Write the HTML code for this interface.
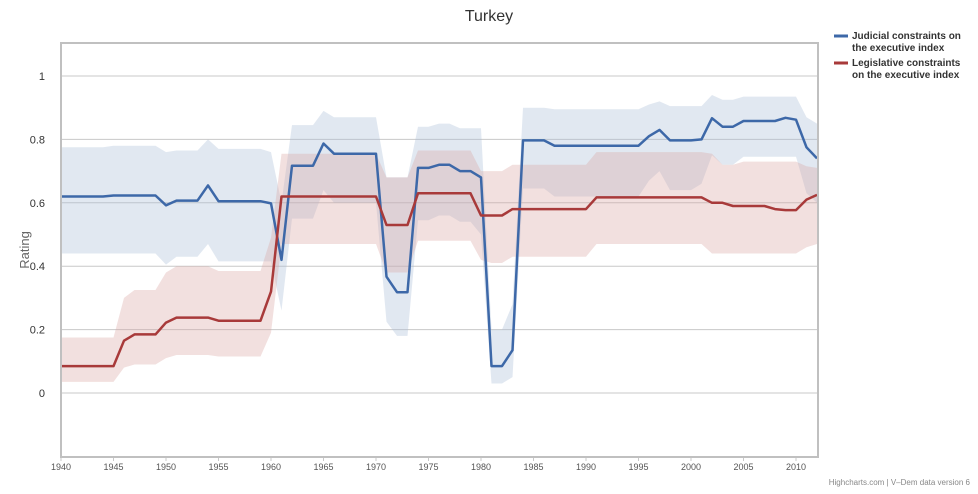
<!DOCTYPE html>
<html><head><meta charset="utf-8"><style>
body{margin:0;background:#fff;width:978px;height:489px;overflow:hidden;font-family:"Liberation Sans","DejaVu Sans",sans-serif}
</style></head><body>
<svg id="c" width="978" height="489" xmlns="http://www.w3.org/2000/svg" font-family="Liberation Sans, DejaVu Sans, sans-serif">
<rect x="0" y="0" width="978" height="489" fill="#fff"/>
<text x="489" y="21" text-anchor="middle" font-size="16" fill="#333">Turkey</text>
<g id="grid" stroke="#c8c8c8" stroke-width="1"></g>
<g id="bands"></g>
<g id="lines"></g>
<rect x="61" y="43" width="757" height="414" fill="none" stroke="#c0c0c0" stroke-width="2"/>
<g id="ylab" font-size="11" fill="#333" text-anchor="end"></g>
<g id="xlab" font-size="9" fill="#555" text-anchor="middle"></g>
<text transform="translate(29,250) rotate(-90)" text-anchor="middle" font-size="13" fill="#666">Rating</text>
<line x1="834" y1="36" x2="848" y2="36" stroke="#3d68a8" stroke-width="3"/>
<text x="852" y="39" font-size="10" font-weight="bold" fill="#333">Judicial constraints on</text>
<text x="852" y="51" font-size="10" font-weight="bold" fill="#333">the executive index</text>
<line x1="834" y1="63" x2="848" y2="63" stroke="#a83a3a" stroke-width="3"/>
<text x="852" y="66" font-size="10" font-weight="bold" fill="#333">Legislative constraints</text>
<text x="852" y="78" font-size="10" font-weight="bold" fill="#333">on the executive index</text>
<text x="970" y="485" text-anchor="end" font-size="8" fill="#888">Highcharts.com | V–Dem data version 6</text>
</svg>
<script>
const X=y=>61+(y-1940)*10.5, Y=v=>393-v*317;
function exp(spec){const a=[];for(const [s,e,v] of spec)for(let y=s;y<=e;y++)a[y-1940]=v;return a;}
const bl=exp([[1940,1944,.62],[1945,1949,.623],[1950,1950,.592],[1951,1953,.607],[1954,1954,.655],[1955,1959,.605],[1960,1960,.598],[1961,1961,.42],[1962,1964,.717],[1965,1965,.787],[1966,1970,.755],[1971,1971,.367],[1972,1973,.318],[1974,1975,.71],[1976,1977,.72],[1978,1979,.70],[1980,1980,.68],[1981,1982,.085],[1983,1983,.135],[1984,1986,.797],[1987,1995,.78],[1996,1996,.81],[1997,1997,.83],[1998,2000,.797],[2001,2001,.80],[2002,2002,.867],[2003,2004,.84],[2005,2008,.858],[2009,2009,.868],[2010,2010,.862],[2011,2011,.775],[2012,2012,.74]]);
const bu=exp([[1940,1944,.775],[1945,1949,.78],[1950,1950,.76],[1951,1953,.765],[1954,1954,.80],[1955,1959,.77],[1960,1960,.76],[1961,1961,.6],[1962,1964,.845],[1965,1965,.89],[1966,1970,.87],[1971,1973,.68],[1974,1975,.84],[1976,1977,.85],[1978,1980,.835],[1981,1982,.2],[1983,1983,.28],[1984,1986,.9],[1987,1995,.895],[1996,1996,.91],[1997,1997,.92],[1998,2001,.905],[2002,2002,.94],[2003,2004,.925],[2005,2010,.935],[2011,2011,.87],[2012,2012,.85]]);
const blo=exp([[1940,1949,.44],[1950,1950,.405],[1951,1953,.43],[1954,1954,.47],[1955,1960,.415],[1961,1961,.26],[1962,1964,.55],[1965,1965,.64],[1966,1970,.6],[1971,1971,.225],[1972,1973,.18],[1974,1975,.545],[1976,1977,.56],[1978,1979,.54],[1980,1980,.5],[1981,1982,.03],[1983,1983,.05],[1984,1986,.645],[1987,1995,.62],[1996,1996,.67],[1997,1997,.70],[1998,2000,.64],[2001,2001,.66],[2002,2002,.75],[2003,2004,.72],[2005,2010,.745],[2011,2011,.63],[2012,2012,.60]]);
const rl=exp([[1940,1945,.085],[1946,1946,.165],[1947,1949,.185],[1950,1950,.222],[1951,1954,.238],[1955,1959,.228],[1960,1960,.32],[1961,1970,.62],[1971,1973,.53],[1974,1979,.63],[1980,1982,.56],[1983,1990,.58],[1991,2001,.617],[2002,2003,.60],[2004,2007,.59],[2008,2008,.58],[2009,2010,.577],[2011,2011,.61],[2012,2012,.625]]);
const ru=exp([[1940,1945,.175],[1946,1946,.30],[1947,1949,.325],[1950,1950,.38],[1951,1954,.40],[1955,1959,.385],[1960,1960,.49],[1961,1970,.755],[1971,1973,.68],[1974,1979,.765],[1980,1982,.70],[1983,1990,.72],[1991,2001,.76],[2002,2002,.755],[2003,2004,.72],[2005,2010,.73],[2011,2011,.715],[2012,2012,.71]]);
const rlo=exp([[1940,1945,.035],[1946,1946,.08],[1947,1949,.09],[1950,1950,.11],[1951,1954,.12],[1955,1959,.115],[1960,1960,.19],[1961,1970,.47],[1971,1973,.38],[1974,1979,.48],[1980,1980,.42],[1981,1982,.41],[1983,1990,.43],[1991,2001,.47],[2002,2010,.44],[2011,2011,.46],[2012,2012,.47]]);
const NS="http://www.w3.org/2000/svg";
function el(p,t,a){const e=document.createElementNS(NS,t);for(const k in a)e.setAttribute(k,a[k]);document.getElementById(p).appendChild(e);return e;}
const pts=a=>a.map((v,i)=>X(1940+i).toFixed(1)+","+Y(v).toFixed(1));
function band(u,l,c){el("bands","polygon",{points:pts(u).concat(pts(l).reverse()).join(" "),fill:c,"fill-opacity":"0.35"});}
band(bu,blo,"#a9bcd8");band(ru,rlo,"#d9a6a3");
el("lines","polyline",{points:pts(bl).join(" "),fill:"none",stroke:"#3d68a8","stroke-width":"2.5","stroke-linejoin":"round"});
el("lines","polyline",{points:pts(rl).join(" "),fill:"none",stroke:"#a83a3a","stroke-width":"2.5","stroke-linejoin":"round"});
[0,.2,.4,.6,.8,1].forEach(v=>{el("grid","line",{x1:61,x2:818,y1:Y(v),y2:Y(v)});const t=el("ylab","text",{x:45,y:Y(v)+4});t.textContent=v==1?"1":v==0?"0":v.toFixed(1);});
for(let y=1940;y<=2010;y+=5){const t=el("xlab","text",{x:X(y),y:470});t.textContent=y;el("grid","line",{x1:X(y),x2:X(y),y1:457,y2:461});}
</script>
</body></html>
